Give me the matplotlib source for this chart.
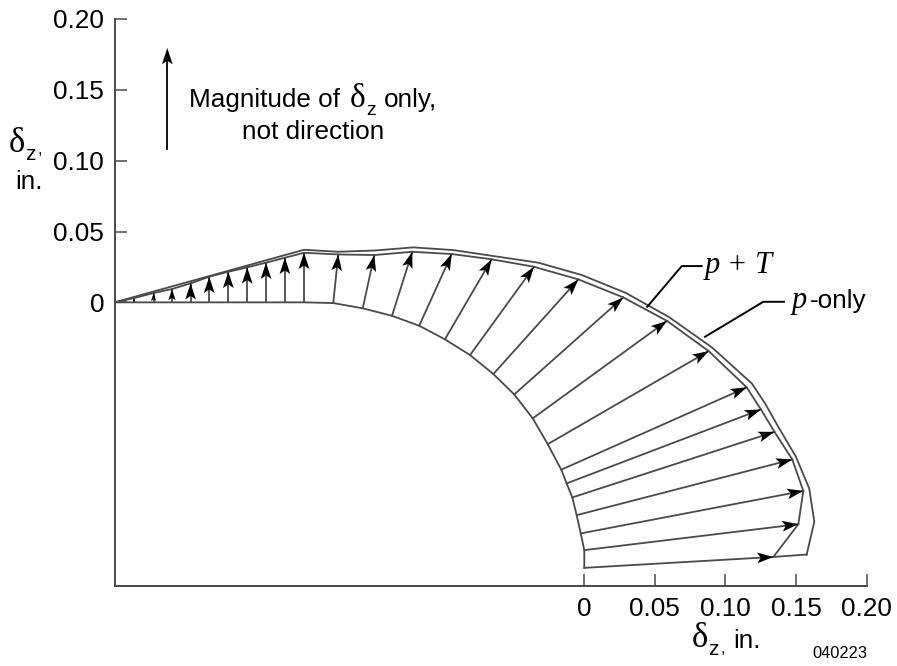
import numpy as np
import matplotlib
matplotlib.use('Agg')
import matplotlib.pyplot as plt
from matplotlib.patches import Polygon

plt.rcParams['font.family'] = 'Liberation Sans'

# undeformed shape, one point per arrow
base_x = [-0.3189, -0.3050, -0.2920, -0.2788, -0.2656, -0.2521, -0.2387, -0.2254, -0.2120,
          -0.1985, -0.1778, -0.1569, -0.1362, -0.1169, -0.0987, -0.0809, -0.0644, -0.0496,
          -0.0365, -0.0259, -0.0163, -0.0125, -0.0085, -0.0054, -0.0025, 0.0, 0.0]
base_y = [0, 0, 0, 0, 0, 0, 0, 0, 0,
          0, -0.0005, -0.0042, -0.0095, -0.0165, -0.0261, -0.0372, -0.0506, -0.0650,
          -0.0819, -0.1001, -0.1181, -0.1278, -0.1377, -0.1502, -0.1631, -0.1749, -0.1874]

# deformed shape (arrow tips)
tip_x = [-0.3189, -0.3050, -0.2920, -0.2788, -0.2656, -0.2521, -0.2387, -0.2254, -0.2120,
         -0.1985, -0.1742, -0.1487, -0.1218, -0.0939, -0.0656, -0.0356, -0.0042, 0.0276,
         0.0586, 0.0881, 0.1150, 0.1251, 0.1347, 0.1473, 0.1551, 0.1516, 0.1339]
tip_y = [0.0030, 0.0066, 0.0094, 0.0134, 0.0181, 0.0216, 0.0247, 0.0280, 0.0315,
         0.0350, 0.0338, 0.0334, 0.0357, 0.0341, 0.0304, 0.0251, 0.0162, 0.0035,
         -0.0131, -0.0344, -0.0600, -0.0756, -0.0914, -0.1109, -0.1331, -0.1566, -0.1797]

# outer curve
outer_x = [-0.3327, -0.1985, -0.1744, -0.1482, -0.1211, -0.0928, -0.0644, -0.0326, -0.0018,
           0.0295, 0.0600, 0.0904, 0.1186, 0.1280, 0.1374, 0.1499, 0.1593, 0.1629, 0.1575]
outer_y = [0.0, 0.0371, 0.0357, 0.0366, 0.0388, 0.0369, 0.0327, 0.0280, 0.0193,
           0.0066, -0.0104, -0.0318, -0.0572, -0.0713, -0.0879, -0.1090, -0.1314, -0.1549, -0.1780]

y_ticks = [0, 0.05, 0.10, 0.15, 0.20]
y_labels = ['0', '0.05', '0.10', '0.15', '0.20']
x_ticks = [0, 0.05, 0.10, 0.15, 0.20]
x_labels = ['0', '0.05', '0.10', '0.15', '0.20']

leader_pT_x = [0.0446, 0.0690, 0.0831]
leader_pT_y = [-0.0031, 0.0256, 0.0256]
leader_p_x = [0.0855, 0.1268, 0.1414]
leader_p_y = [-0.0243, 0.0004, 0.0004]

W, H = 897, 666
line_c = '#4a4a4a'
serif = 'Liberation Serif'


def head(ax, x0, y0, x1, y1):
    # notched arrow head at (x1, y1)
    d = np.array([x1 - x0, y1 - y0])
    length = np.hypot(*d)
    u = d / length
    n = np.array([-u[1], u[0]])
    L = min(0.0115, 0.85 * length)
    w = L * 0.33
    tip = np.array([x1, y1])
    pts = [tip, tip - L * u + w * n, tip - 0.78 * L * u, tip - L * u - w * n]
    ax.add_patch(Polygon(pts, closed=True, fc='black', ec='none', zorder=4))


def txt(x, y, s, **kw):
    # place text by pixel position in the figure
    fig.text(x / W, 1 - y / H, s, ha=kw.pop('ha', 'left'), va='baseline', **kw)


def delta_z(x, y, size, zsize, zx, zy):
    txt(x, y, '\u03b4', fontsize=size, family=serif)
    txt(zx, zy, 'z', fontsize=zsize)


fig = plt.figure(figsize=(W / 100, H / 100), dpi=100)
ax = fig.add_axes([114.5 / W, 1 - 585.7 / H, (866.7 - 114.5) / W, (585.7 - 19) / H])
ax.set_xlim(-0.3327, 0.20)
ax.set_ylim(-0.20, 0.20)
ax.patch.set_alpha(0)

for s in ['top', 'right']:
    ax.spines[s].set_visible(False)
for s in ['left', 'bottom']:
    ax.spines[s].set_linewidth(1.4)
    ax.spines[s].set_color(line_c)

ax.set_yticks(y_ticks)
ax.set_yticklabels(y_labels)
ax.set_xticks(x_ticks)
ax.set_xticklabels(x_labels)
ax.tick_params(axis='y', direction='in', length=8.5, width=1.1, color=line_c, pad=7.5, labelsize=18.8)
ax.tick_params(axis='x', direction='in', length=8.5, width=1.1, color=line_c, pad=8, labelsize=18.8)

# undeformed outline
ax.plot([-0.3327] + base_x, [0] + base_y, color=line_c, lw=1.3, zorder=2)

# the two deformed curves
ax.plot([-0.3327] + tip_x + [outer_x[-1]], [0] + tip_y + [outer_y[-1]],
        color=line_c, lw=1.3, zorder=2)
ax.plot(outer_x, outer_y, color=line_c, lw=1.3, zorder=2)

# displacement arrows
for x0, y0, x1, y1 in zip(base_x, base_y, tip_x, tip_y):
    ax.plot([x0, x1], [y0, y1], color=line_c, lw=1.3, zorder=3)
    head(ax, x0, y0, x1, y1)

# magnitude arrow
ax.plot([-0.2953, -0.2953], [0.1083, 0.1750], color='black', lw=1.3, zorder=3)
head(ax, -0.2953, 0.1083, -0.2953, 0.1795)

ax.plot(leader_pT_x, leader_pT_y, color='black', lw=1.4, zorder=3)
ax.plot(leader_p_x, leader_p_y, color='black', lw=1.4, zorder=3)

# note next to the arrow
txt(189, 107, 'Magnitude of', fontsize=18.8)
delta_z(350, 107, 24, 14, 366, 115)
txt(384, 107, 'only,', fontsize=18.8)
txt(313, 139, 'not direction', fontsize=18.8, ha='center')

# y axis label
delta_z(9, 152, 25, 15, 25, 160)
txt(38, 154, ',', fontsize=12)
txt(43, 189, 'in.', fontsize=18.8, ha='right')

# x axis label
delta_z(692, 647, 25, 15, 708, 655)
txt(721, 653, ',', fontsize=12)
txt(733, 648, 'in.', fontsize=18.8)

txt(840, 658, '040223', fontsize=11.8, ha='center')
txt(705, 273, 'p + T', fontsize=22, family=serif, style='italic')
txt(792, 308, 'p', fontsize=22, family=serif, style='italic')
txt(810, 308, '-only', fontsize=18.8)

fig.savefig('out.png', dpi=100)
